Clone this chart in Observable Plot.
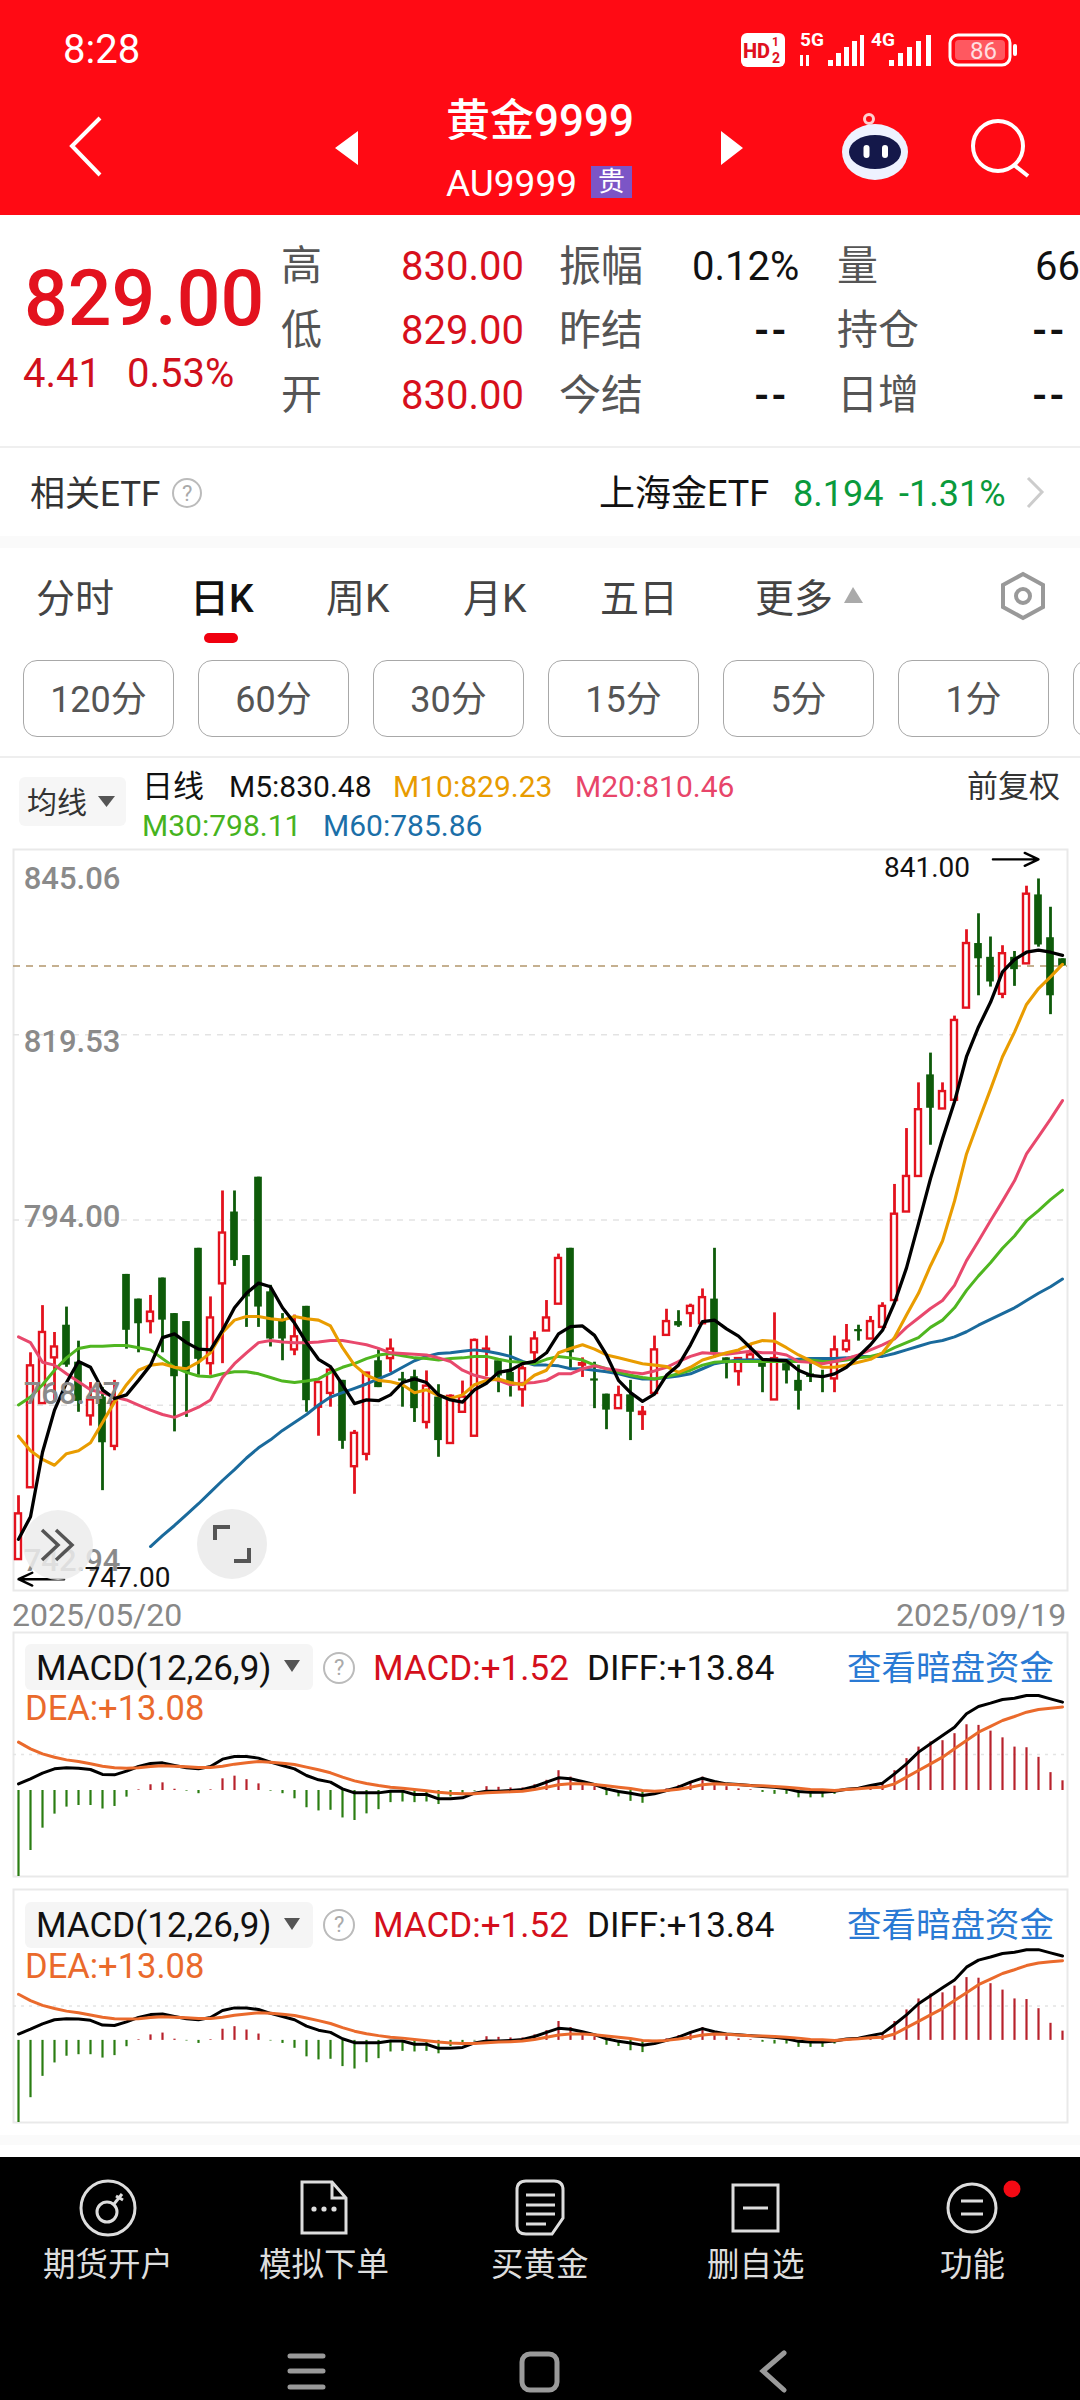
<!DOCTYPE html>
<html lang="zh">
<head>
<meta charset="utf-8">
<style>
html,body{margin:0;padding:0;background:#fff}
#app{position:relative;width:1080px;height:2400px;overflow:hidden;background:#fff;font-family:Roboto,"Noto Sans CJK SC",sans-serif}
.t{position:absolute;white-space:nowrap;transform:translateY(-50%);line-height:1.2}
.b{position:absolute;box-sizing:border-box}
</style>
<script src="https://cdn.jsdelivr.net/npm/d3@7"></script>
<script src="https://cdn.jsdelivr.net/npm/@observablehq/plot@0.6"></script>
</head>
<body>
<div id="app"></div>
<script>
const opens=[747.2,757.1,768.7,775.0,779.5,774.4,767.0,769.6,762.8,786.5,
783.1,780.0,786.0,781.1,780.0,790.1,774.2,785.2,795.1,789.1,
799.9,784.1,780.2,776.1,782.1,768.2,770.1,771.9,760.0,761.7,
774.6,774.9,772.1,772.4,766.1,769.6,763.2,767.5,764.2,775.9,
774.6,773.0,770.6,775.7,778.7,782.4,790.1,774.0,772.1,770.0,
768.0,769.9,767.2,770.1,778.1,780.0,781.1,779.7,783.1,775.0,
773.1,774.7,774.5,769.2,774.2,771.9,772.8,772.5,772.1,776.1,
778.9,777.6,779.2,782.9,795.1,800.0,814.0,809.3,810.5,823.2,
832.1,830.2,825.1,830.2,829.3,838.8,832.9,830.0];
const highs=[756.0,775.7,782.2,778.5,782.0,777.3,771.6,770.9,771.9,786.5,
783.1,783.6,786.0,781.1,780.0,790.1,783.4,798.0,798.0,789.1,
799.9,785.0,781.1,780.9,782.1,771.8,773.8,771.9,765.0,773.0,
776.1,777.6,773.0,773.3,773.2,771.3,769.9,771.8,777.6,778.0,
774.6,778.0,773.9,778.6,782.9,789.3,790.1,775.0,774.4,770.0,
771.1,771.9,768.3,778.0,781.7,781.5,782.4,784.5,790.1,775.0,
775.0,776.7,774.8,781.2,774.7,774.0,775.0,773.3,778.0,779.6,
779.5,780.7,782.6,798.9,806.6,812.9,817.0,812.9,822.1,834.0,
836.2,833.0,831.8,831.0,840.0,841.0,837.1,830.0];
const lows=[747.2,757.1,768.7,768.9,773.7,767.5,765.6,756.7,762.2,776.2,
775.7,778.3,775.7,764.8,766.8,772.6,772.6,774.2,787.6,779.2,
779.2,776.5,774.6,775.3,767.5,764.2,768.2,762.4,756.2,760.8,
770.9,773.0,768.2,766.1,765.2,761.3,763.2,767.5,764.2,772.4,
770.2,769.6,768.2,774.4,778.7,782.4,773.5,772.3,768.0,765.1,
768.0,763.6,765.0,769.9,778.1,779.2,779.2,779.7,775.0,772.1,
771.1,774.7,770.2,769.2,771.4,767.8,771.6,770.2,770.2,775.7,
777.3,777.6,779.2,782.9,795.1,800.0,804.3,809.3,810.5,823.2,
824.9,826.1,824.5,826.2,829.3,831.6,822.3,829.0];
const closes=[753.5,773.9,778.5,776.5,774.0,769.0,769.2,763.3,768.9,778.8,
779.7,781.3,780.2,772.4,773.0,774.8,780.5,792.2,788.4,783.4,
782.0,777.6,777.6,777.9,769.1,771.6,773.3,763.5,764.6,772.9,
770.9,776.2,771.8,768.0,771.1,763.6,769.7,769.6,777.4,776.2,
772.5,771.3,773.5,777.6,780.5,788.7,775.7,774.2,771.8,767.8,
769.8,767.5,767.5,776.1,780.0,779.4,782.1,783.3,775.7,774.2,
774.9,775.4,773.7,774.9,773.2,770.4,772.3,772.3,776.1,777.3,
778.6,780.0,782.1,794.8,800.0,809.2,809.4,811.7,821.5,832.1,
830.0,826.8,830.7,828.5,838.9,831.9,824.9,829.0];
const m5=[750.0,753.1,762.0,767.8,771.6,774.5,773.7,770.6,769.4,769.9,771.9,774.0,777.8,778.3,777.1,776.2,776.1,778.8,781.9,783.9,785.3,784.8,781.9,779.8,777.1,774.8,773.8,771.3,768.7,769.2,769.1,769.9,771.6,772.1,771.6,769.9,769.2,768.9,770.6,771.5,773.0,773.3,774.2,774.5,
775.7,778.3,779.3,779.4,778.1,775.4,771.9,770.2,769.0,770.0,772.6,774.0,776.8,780.0,780.2,779.0,778.0,776.4,774.8,774.7,774.6,773.3,772.6,772.4,772.8,773.7,775.2,776.8,778.8,782.6,787.4,793.5,799.7,805.2,810.3,816.5,820.6,824.0,828.2,829.9,830.9,831.2,830.9,830.48];
const m10=[764.2,762.2,761.0,760.2,761.8,762.2,763.3,766.1,768.9,771.3,773.3,774.0,774.2,773.7,773.5,774.4,775.7,778.5,780.2,780.7,780.7,780.4,780.2,780.7,780.4,780.2,779.4,776.4,774.0,772.6,771.9,771.7,771.3,770.2,770.6,769.8,769.4,769.9,771.3,771.9,772.1,771.6,771.3,772.6,
773.3,775.7,776.3,776.8,776.2,775.4,775.0,774.6,774.2,774.0,773.8,773.0,773.7,774.7,775.2,775.7,776.1,776.9,777.4,777.3,776.4,775.4,774.6,773.7,773.7,774.0,774.4,774.8,775.7,777.8,780.9,783.9,787.7,791.1,796.6,803.1,807.6,812.0,816.5,819.9,823.7,825.9,827.5,829.23];
const m20=[777.9,777.1,774.4,774.0,772.8,771.7,770.6,770.2,769.6,769.2,768.5,767.8,767.2,766.8,767.5,768.2,769.2,772.3,774.2,775.7,777.1,777.4,777.2,777.1,777.1,777.2,777.4,777.4,777.1,776.8,776.3,775.7,775.6,775.5,775.4,775.0,774.5,773.3,772.6,772.2,771.9,771.3,771.5,771.6,
771.9,772.8,772.8,773.5,773.9,773.5,773.3,773.0,772.8,773.2,773.7,774.5,775.2,775.7,775.6,775.5,775.7,775.9,775.7,775.7,775.4,774.5,774.4,774.2,774.5,774.9,775.4,776.1,776.8,777.6,779.2,780.5,781.8,782.9,785.0,788.4,791.1,793.9,796.6,799.4,803.1,805.5,807.9,810.46];
const m30=[768.5,769.6,771.3,773.3,775.0,776.3,776.6,776.6,776.7,776.7,776.4,776.1,774.9,773.7,773.0,772.5,772.4,772.8,773.1,773.1,772.8,772.3,771.8,771.6,771.8,772.1,773.0,773.7,774.2,774.9,775.4,775.6,775.3,775.0,774.9,774.7,774.9,775.0,775.2,775.2,774.8,774.5,774.4,774.2,
774.8,775.2,775.0,774.7,774.0,773.5,773.0,772.6,772.3,772.1,772.4,772.8,773.3,774.0,774.4,774.5,774.5,774.5,774.5,774.5,774.5,774.5,774.7,774.5,774.5,774.7,775.0,775.2,775.6,776.4,777.1,777.8,779.2,780.2,781.9,784.3,786.3,788.1,790.1,791.8,793.9,795.3,796.8,798.11];
const m60=[null,null,null,null,null,null,null,null,null,null,null,749.0,750.5,751.9,753.4,754.9,756.5,758.1,759.6,761.2,762.6,763.7,765.0,766.1,767.2,768.5,769.6,770.2,770.8,771.4,772.1,772.8,773.7,774.6,775.2,775.6,775.7,775.9,776.1,775.9,775.6,775.2,774.5,774.0,
774.0,773.9,773.5,773.5,773.3,773.1,772.8,772.4,772.1,772.1,772.3,772.5,772.8,773.5,774.2,774.5,774.7,774.7,774.7,774.7,774.7,774.8,774.9,774.9,774.9,775.0,775.2,775.2,775.2,775.6,776.1,776.6,777.1,777.4,777.9,778.6,779.5,780.3,781.1,781.9,782.9,783.9,784.8,785.86];
const macdBars=[-13.47,-9.4,-5.9,-3.7,-2.6,-2.35,-2.35,-2.9,-2.5,-1.04,0.1,0.9,1.2,0.2,-0.1,-0.5,0.1,1.83,2.25,1.7,1.04,-0.1,-0.5,-1.3,-2.7,-3.2,-3.1,-4.3,-4.7,-3.66,-3.0,-1.9,-1.8,-1.9,-1.8,-2.2,-1.0,-0.8,-0.1,0.6,0.5,0.4,0.4,0.9,1.6,3.1,2.1,1.3,0.6,-0.8,-1.0,-1.7,-2.0,-0.3,0.26,0.8,1.3,2.1,1.04,0.6,0.26,0.1,-0.3,-0.6,-0.6,-1.15,-1.15,-1.15,-0.6,0.2,0.3,0.5,1.04,3.1,5.0,6.8,7.6,7.8,8.9,10.3,10.2,9.3,8.25,6.8,6.7,5.2,2.8,1.52];
const diffVals=[1.04,1.83,2.72,3.39,3.55,3.5,3.29,2.51,2.45,3.03,3.76,4.23,4.33,3.92,3.55,3.39,3.76,4.91,5.33,5.33,5.07,4.44,3.92,3.39,2.35,1.67,1.31,0.26,-0.37,-0.37,-0.37,-0.1,-0.1,-0.63,-0.63,-1.31,-1.31,-1.15,-0.42,-0.1,-0.1,0,0.16,0.63,1.31,1.98,1.83,1.41,0.94,0.26,-0.16,-0.42,-0.78,-0.52,0,0.52,1.31,1.93,1.41,1.04,0.94,0.78,0.63,0.52,0.26,-0.16,-0.26,-0.26,-0.1,0.21,0.37,0.78,1.15,2.61,4.18,6.01,7.31,8.62,9.92,12.01,13.16,13.68,14.26,14.46,14.88,14.88,14.36,13.84];
const deaVals=[7.57,6.53,5.74,5.22,4.8,4.54,4.18,3.81,3.55,3.5,3.55,3.76,3.86,3.81,3.71,3.6,3.6,3.81,4.13,4.33,4.54,4.44,4.28,4.07,3.66,3.24,2.77,2.09,1.51,1.1,0.78,0.52,0.37,0.16,-0.05,-0.26,-0.42,-0.52,-0.52,-0.37,-0.26,-0.21,-0.1,0.16,0.52,0.89,1.04,1.04,0.94,0.73,0.52,0.31,0,-0.1,0,0.21,0.52,0.89,1.04,0.99,0.89,0.78,0.73,0.63,0.52,0.37,0.16,0.1,0,0.16,0.26,0.42,0.52,1.04,2.09,3.13,4.18,5.22,6.53,7.83,9.14,10.03,10.97,11.59,12.27,12.69,12.9,13.08];
const priceTicks=[845.06,819.53,794.00,768.47,742.94];
const tickLabels=["845.06","819.53","794.00","768.47","742.94"];
const lastPrice=[829];
const macdDomain=[-13.47,24.75];
const macdMid=[5.64];

const app=document.getElementById("app");

const candles=opens.map((o,i)=>({i,open:o,high:highs[i],low:lows[i],close:closes[i],up:closes[i]>=o}));
const seq=a=>a.map((v,i)=>({i,v})).filter(d=>d.v!=null);
const xDomain=[-5/12,87+5/12];
const RED="#e3121e",GREEN="#0e5b0a";
const ups=candles.filter(d=>d.up),downs=candles.filter(d=>!d.up);
const gridlines=priceTicks.slice(1,4);

const lineMark=(a,stroke,sw)=>Plot.line(seq(a),{x:"i",y:"v",stroke,strokeWidth:sw,curve:"linear"});
const labelMark=(idx,dy)=>Plot.text([priceTicks[idx]],{x:()=>-0.4,y:d=>d,text:()=>tickLabels[idx],textAnchor:"start",dx:10,dy,fontSize:31,fontFamily:"Roboto",fontWeight:500,fill:"#8a8a8a"});

const main=Plot.plot({
  width:1054,height:741,marginTop:0,marginRight:0,marginBottom:0,marginLeft:0,
  x:{domain:xDomain,axis:null},y:{domain:[742.94,845.06],axis:null},
  style:{position:"absolute",left:"13px",top:"849px",background:"transparent",overflow:"visible"},
  marks:[
    Plot.frame({stroke:"#e9e9e9",strokeWidth:2}),
    Plot.ruleY(gridlines,{stroke:"#e3e3e3",strokeWidth:1.5,strokeDasharray:"6,6"}),
    Plot.ruleY(lastPrice,{stroke:"#b3966c",strokeWidth:1.6,strokeDasharray:"7,6"}),
    Plot.ruleX(ups,{x:"i",y1:"low",y2:"high",stroke:RED,strokeWidth:2.8}),
    Plot.ruleX(downs,{x:"i",y1:"low",y2:"high",stroke:GREEN,strokeWidth:2.8}),
    Plot.rect(ups,{x1:d=>d.i-.25,x2:d=>d.i+.25,y1:"open",y2:"close",fill:"#fff",stroke:RED,strokeWidth:2.4}),
    Plot.rect(downs,{x1:d=>d.i-.32,x2:d=>d.i+.32,y1:"open",y2:"close",fill:GREEN}),
    lineMark(m60,"#1a6a9c",3),
    lineMark(m30,"#4fb620",3),
    lineMark(m20,"#e8486c",3),
    lineMark(m10,"#e99c00",3.1),
    lineMark(m5,"#000",3.3),
    labelMark(0,30),labelMark(1,7),labelMark(2,-3),labelMark(3,-11),labelMark(4,-29),
    Plot.text(["841.00"],{x:()=>79.3,y:()=>842.5,text:d=>d,textAnchor:"end",fontSize:28,fontFamily:"Roboto",fill:"#111"}),
    Plot.arrow([0],{x1:()=>81.2,x2:()=>85,y1:()=>843.7,y2:()=>843.7,stroke:"#000",strokeWidth:2.4,bend:0,headLength:20,headAngle:50,insetEnd:0,insetStart:0}),
    Plot.text(["747.00"],{x:()=>5.5,y:()=>744.7,text:d=>d,textAnchor:"start",fontSize:28,fontFamily:"Roboto",fill:"#111"}),
    Plot.arrow([0],{x1:()=>3.8,x2:()=>0,y1:()=>744.5,y2:()=>744.5,stroke:"#000",strokeWidth:2.4,bend:0,headLength:20,headAngle:50,insetEnd:0,insetStart:0})
  ]
});
app.appendChild(main);

function macdPanel(top,height){
  const bars=seq(macdBars);
  return Plot.plot({
    width:1054,height,marginTop:0,marginRight:0,marginBottom:0,marginLeft:0,
    x:{domain:xDomain,axis:null},y:{domain:macdDomain,axis:null},
    style:{position:"absolute",left:"13px",top:top+"px",background:"transparent",overflow:"visible"},
    marks:[
      Plot.frame({stroke:"#e9e9e9",strokeWidth:2}),
      Plot.ruleY(macdMid,{stroke:"#e4e4e4",strokeWidth:1.5,strokeDasharray:"3,5"}),
      Plot.ruleX(bars.filter(d=>d.v>=0),{x:"i",y1:()=>0,y2:"v",stroke:"#b8222c",strokeWidth:2.2}),
      Plot.ruleX(bars.filter(d=>d.v<0),{x:"i",y1:()=>0,y2:"v",stroke:"#2a7d12",strokeWidth:2.2}),
      Plot.line(seq(diffVals),{x:"i",y:"v",stroke:"#000",strokeWidth:3}),
      Plot.line(seq(deaVals),{x:"i",y:"v",stroke:"#ea6a2c",strokeWidth:3})
    ]
  });
}
app.appendChild(macdPanel(1632,244));
app.appendChild(macdPanel(1889,233));

function box(l,t,w,h,css){const d=document.createElement("div");d.className="b";d.style.cssText=`left:${l}px;top:${t}px;width:${w}px;height:${h}px;${css||""}`;app.appendChild(d);return d;}
function txt(s,l,cy,size,color,css){const d=document.createElement("div");d.className="t";d.textContent=s;d.style.cssText=`left:${l}px;top:${cy}px;font-size:${size}px;color:${color};${css||""}`;app.appendChild(d);return d;}

/* header */
box(0,0,1080,215,"background:#ff0a14");
txt("8:28",63,50,40,"#fff");
txt("黄金9999",446,120.5,44,"#fff","font-weight:500");
txt("AU9999",446,184,37,"#fff");
box(591,166,41,32,"background:#7c55c6");
txt("贵",598,182,27,"#fff");
txt("5G",800,40,19,"#fff","font-weight:700");
txt("4G",871,40,19,"#fff","font-weight:700");
txt("86",970,51,24,"#fff");

/* quote */
txt("829.00",24,298.5,77,"#e3121e","font-weight:500");
txt("4.41",23,373.5,40,"#d0101c");
txt("0.53%",127,373.5,40,"#d0101c");
const rowY=[267,331,396];
[["高","830.00","振幅","0.12%","量","66"],["低","829.00","昨结","--","持仓","--"],["开","830.00","今结","--","日增","--"]].forEach((r,k)=>{
  const y=rowY[k];
  txt(r[0],281,y,41,"#555");
  txt(r[1],401,y,40,"#d7101c");
  txt(r[2],559,y,42,"#555");
  if(r[3]==="--")txt(r[3],754,y,39,"#111","font-weight:700;letter-spacing:2px");else txt(r[3],692,y,40,"#111");
  txt(r[4],837,y,41,"#555");
  if(r[5]==="--")txt(r[5],1032,y,39,"#111","font-weight:700;letter-spacing:2px");else txt(r[5],1035,y,40,"#111");
});
box(0,446,1080,1.5,"background:#efefef");
txt("相关ETF",30,494.5,35,"#333");
txt("?",182,494,22,"#aaa");
box(172,478,30,30,"border:2px solid #bbb;border-radius:50%");
txt("上海金ETF",599,494.5,36,"#111");
txt("8.194",793,494.5,36,"#0a9a3c");
txt("-1.31%",899,494.5,36,"#0a9a3c");
box(0,536,1080,12,"background:#fafafa");

/* tabs */
[["分时",36,"#444",""],["日K",190,"#111","font-weight:500"],["周K",326,"#444",""],["月K",463,"#444",""],["五日",600,"#444",""],["更多",755,"#444",""]].forEach(a=>txt(a[0],a[1],598.5,39,a[2],a[3]));
box(204,633,34,10,"background:#f0000f;border-radius:5px");
[[23,"120分"],[198,"60分"],[373,"30分"],[548,"15分"],[723,"5分"],[898,"1分"]].forEach(a=>{
  const b=box(a[0],660,151,77,"border:1.5px solid #a8a8a8;border-radius:14px;display:flex;align-items:center;justify-content:center;font-size:36px;color:#555;line-height:1;padding-top:3px");
  b.textContent=a[1];
});
box(1073,660,40,77,"border:1.5px solid #a8a8a8;border-radius:14px");
box(0,756,1080,2,"background:#eee");

/* legend */
box(19,777,107,49,"background:#f6f6f6;border-radius:6px");
txt("均线",27,803,30,"#333");
txt("日线",142,786.5,31,"#111");
txt("M5:830.48",229,786.5,30,"#111");
txt("M10:829.23",393,786.5,30,"#e89b00");
txt("M20:810.46",575,786.5,30,"#e8456a");
txt("M30:798.11",142,825.5,30,"#46b31e");
txt("M60:785.86",323,825.5,30,"#1b6fa8");
txt("前复权",967,786.5,31,"#333");

/* date labels */
txt("2025/05/20",12,1615,32,"#888");
txt("2025/09/19",896,1615,32,"#888");

/* macd headers */
[[1644,1668.5,1708.5],[1902,1925.5,1966.5]].forEach(p=>{
  box(25,p[0],288,46,"background:#f5f5f5;border-radius:6px");
  txt("MACD(12,26,9)",36,p[1],35,"#111");
  box(323,p[1]-17,32,32,"border:2px solid #bbb;border-radius:50%");
  txt("?",334,p[1]-1,22,"#aaa");
  txt("MACD:+1.52",373,p[1],35,"#d40f1c");
  txt("DIFF:+13.84",587,p[1],35,"#111");
  txt("查看暗盘资金",847,p[1],34.5,"#2a7ad4");
  txt("DEA:+13.08",25,p[2],34.5,"#ea6a2c");
});
box(0,2135,1080,10,"background:#fafafa");

/* bottom bar */
box(0,2157,1080,243,"background:#000");
[["期货开户",43],["模拟下单",259],["买黄金",491],["删自选",707],["功能",940]].forEach(a=>txt(a[0],a[1],2264.5,32.5,"#ddd"));

/* icons and chart-side overlay buttons */
const icons=document.createElementNS("http://www.w3.org/2000/svg","svg");
icons.setAttribute("width",1080);icons.setAttribute("height",2400);
icons.style.cssText="position:absolute;left:0;top:0;pointer-events:none";
icons.innerHTML=`
<g fill="none" stroke="#fff" stroke-width="4">
  <path d="M100 118L72 146L100 175"/>
  <circle cx="998" cy="146" r="25"/><path d="M1014 165L1028 176"/>
</g>
<path d="M358 131L335 148L358 165Z M721 131L743 148L721 165Z" fill="#fff"/>
<rect x="741" y="33" width="44" height="34" rx="6" fill="#fff"/>
<text x="743" y="58" font-size="20" fill="#e01020" font-weight="800" font-family="Roboto">HD</text>
<text x="772" y="46" font-size="12" fill="#e01020" font-weight="700" font-family="Roboto">1</text>
<text x="772" y="63" font-size="14" fill="#e01020" font-weight="700" font-family="Roboto">2</text>
<g fill="#fff">
  <rect x="828" y="60" width="5" height="6"/><rect x="836" y="53" width="5" height="13"/><rect x="844" y="47" width="5" height="19"/><rect x="852" y="41" width="5" height="25"/><rect x="860" y="35" width="4" height="31"/>
  <rect x="889" y="60" width="5" height="6"/><rect x="898" y="53" width="5" height="13"/><rect x="907" y="47" width="5" height="19"/><rect x="916" y="41" width="5" height="25"/><rect x="926" y="35" width="5" height="31"/>
  <rect x="800" y="55" width="3" height="11"/><rect x="806" y="55" width="3" height="11"/>
</g>
<rect x="950" y="35" width="60" height="30" rx="8" fill="none" stroke="#fff" stroke-width="3"/>
<rect x="955" y="40" width="50" height="20" rx="4" fill="#ffb9bd" fill-opacity=".45"/>
<rect x="1013" y="44" width="4" height="12" rx="2" fill="#fff"/>
<circle cx="869" cy="119" r="4.5" fill="none" stroke="#ffd0d0" stroke-width="3"/>
<ellipse cx="875" cy="152" rx="33" ry="28" fill="#eef2ff"/>
<ellipse cx="875" cy="152" rx="26" ry="17" fill="#14184a"/>
<rect x="863.5" y="145" width="6" height="13" rx="3" fill="#fff"/><rect x="882" y="145" width="6" height="13" rx="3" fill="#fff"/>
<path d="M1028 478L1042 492L1028 507" fill="none" stroke="#ccc" stroke-width="3"/>
<path d="M844 603L853 587L863 603Z" fill="#aaa"/>
<path d="M1023 574L1043 585V607L1023 618L1003 607V585Z" fill="none" stroke="#999" stroke-width="4"/><circle cx="1023" cy="596" r="7" fill="none" stroke="#999" stroke-width="4"/>
<path d="M98 796H115L106.5 807Z" fill="#555"/>
<path d="M284 1660H300L292 1672Z M284 1918H300L292 1930Z" fill="#555"/>
<g>
 <circle cx="58" cy="1545" r="35" fill="#ececec" fill-opacity=".85"/>
 <path d="M42 1530L58 1545L42 1560M56 1530L72 1545L56 1560" fill="none" stroke="#555" stroke-width="3.5"/>
 <circle cx="232" cy="1544" r="35" fill="#ececec" fill-opacity=".95"/>
 <path d="M215 1540V1527H230M249 1548V1561H234" fill="none" stroke="#555" stroke-width="4"/>
</g>
<g fill="none" stroke="#ddd" stroke-width="3">
  <circle cx="108" cy="2208" r="27"/><circle cx="107" cy="2212" r="10"/><path d="M114 2204L122 2194M116 2196L123 2200"/>
  <path d="M302 2182H332L346 2198V2233H302Z M332 2182V2198H346"/>
  <path d="M517 2190Q517 2181 526 2181H554Q563 2181 563 2190V2218L552 2234H526Q517 2234 517 2226Z M526 2195H555M526 2205H555M526 2214H555M526 2224H546"/>
  <rect x="733" y="2185" width="45" height="46"/><path d="M743 2208H768"/>
  <circle cx="972" cy="2208" r="24"/><path d="M961 2201H983M961 2214H983"/>
</g>
<g fill="#ddd"><circle cx="314" cy="2209" r="2.6"/><circle cx="324" cy="2209" r="2.6"/><circle cx="334" cy="2209" r="2.6"/></g>
<circle cx="1012" cy="2189" r="8.5" fill="#f40a14"/>
<g fill="none" stroke="#9a9a9a" stroke-width="5" stroke-linecap="round">
  <path d="M290 2356H323M290 2371H323M290 2387H323"/>
  <rect x="522" y="2354" width="35" height="36" rx="8"/>
  <path d="M784 2353L763 2371L784 2390"/>
</g>`;
app.appendChild(icons);
</script>
</body>
</html>
